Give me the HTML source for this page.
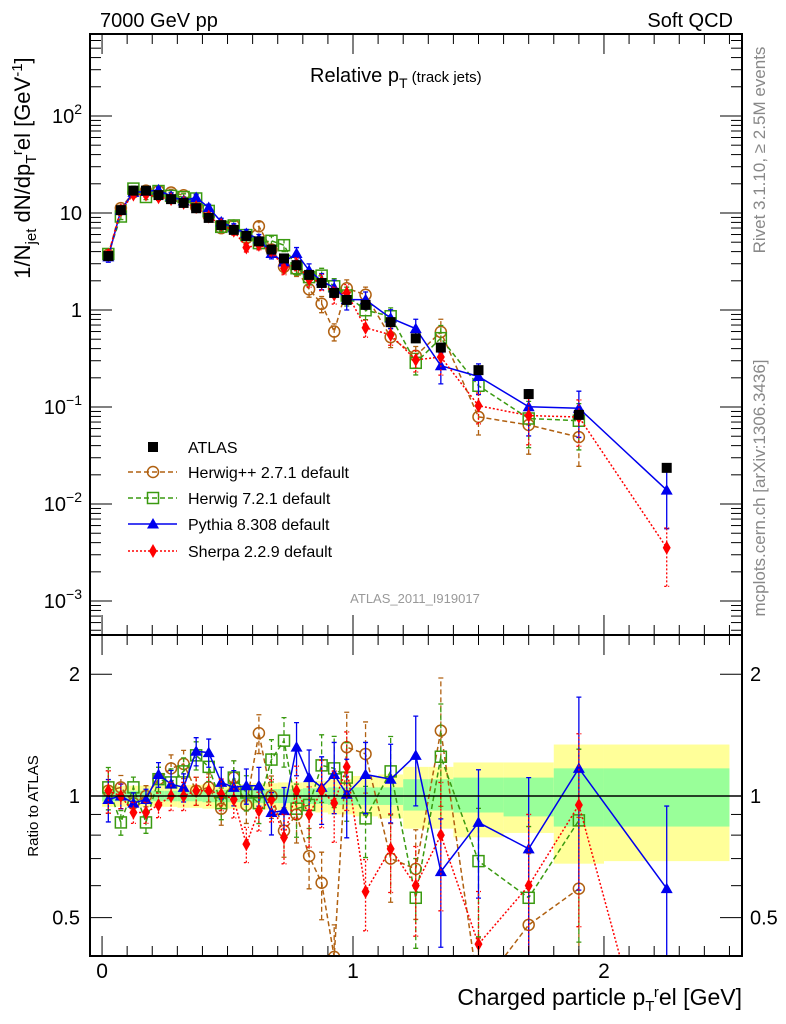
<!DOCTYPE html>
<html><head><meta charset="utf-8">
<style>
html,body{margin:0;padding:0;background:#fff;overflow:hidden;}
svg{display:block;font-family:"Liberation Sans",Arial,sans-serif;}
</style></head>
<body>
<svg id="c" width="786" height="1024" viewBox="0 0 786 1024" xmlns="http://www.w3.org/2000/svg">
  <g id="bands"></g>
  <g id="marks"></g>
  <g id="axes"></g>
  <text x="100" y="27" font-size="20">7000 GeV pp</text>
  <text x="733" y="27" font-size="20" text-anchor="end">Soft QCD</text>
  <text x="310" y="82" font-size="20">Relative p<tspan font-size="14" dy="6">T</tspan><tspan font-size="15" dy="-6"> (track jets)</tspan></text>
  <text x="415" y="603" font-size="13" fill="#999" text-anchor="middle">ATLAS_2011_I919017</text>
  <text transform="translate(765,150) rotate(-90)" font-size="17" fill="#888" text-anchor="middle">Rivet 3.1.10, ≥ 2.5M events</text>
  <text transform="translate(765,488) rotate(-90)" font-size="17" fill="#888" text-anchor="middle">mcplots.cern.ch [arXiv:1306.3436]</text>
  <text transform="translate(30,168) rotate(-90)" font-size="22" text-anchor="middle">1/N<tspan font-size="15" dy="6">jet</tspan><tspan dy="-6"> dN/dp</tspan><tspan font-size="15" dy="6">T</tspan><tspan font-size="15" dy="-14">r</tspan><tspan dy="8">el [GeV</tspan><tspan font-size="15" dy="-8">-1</tspan><tspan dy="8">]</tspan></text>
  <text transform="translate(38,806) rotate(-90)" font-size="15" text-anchor="middle">Ratio to ATLAS</text>
  <text x="742" y="1005" font-size="23" text-anchor="end">Charged particle p<tspan font-size="15" dy="6">T</tspan><tspan font-size="15" dy="-14">r</tspan><tspan dy="8">el [GeV]</tspan></text>
  <g id="legend"></g>
</svg>
<script>
const xVals=[0.025,0.075,0.125,0.175,0.225,0.275,0.325,0.375,0.425,0.475,0.525,0.575,0.625,0.675,0.725,0.775,0.825,0.875,0.925,0.975,1.05,1.15,1.25,1.35,1.5,1.7,1.9,2.25];
const binLo=[0,0.05,0.1,0.15,0.2,0.25,0.3,0.35,0.4,0.45,0.5,0.55,0.6,0.65,0.7,0.75,0.8,0.85,0.9,0.95,1.0,1.1,1.2,1.3,1.4,1.6,1.8,2.0];
const binHi=[0.05,0.1,0.15,0.2,0.25,0.3,0.35,0.4,0.45,0.5,0.55,0.6,0.65,0.7,0.75,0.8,0.85,0.9,0.95,1.0,1.1,1.2,1.3,1.4,1.6,1.8,2.0,2.5];
const atlas=[3.6,10.7,17,17,15.3,13.9,12.7,11.2,8.9,7.5,6.7,5.8,5.1,4.2,3.4,2.9,2.3,1.9,1.5,1.27,1.13,0.75,0.51,0.41,0.24,0.136,0.083,0.0236];
const greenHi=[1.03,1.03,1.03,1.03,1.03,1.03,1.03,1.03,1.035,1.035,1.035,1.035,1.04,1.04,1.04,1.04,1.045,1.045,1.05,1.05,1.05,1.05,1.10,1.10,1.11,1.11,1.17,1.17];
const greenLo=[0.97,0.97,0.97,0.97,0.97,0.97,0.97,0.97,0.965,0.965,0.965,0.965,0.96,0.96,0.96,0.96,0.955,0.955,0.95,0.95,0.95,0.95,0.92,0.92,0.91,0.89,0.84,0.84];
const yellowHi=[1.06,1.06,1.06,1.06,1.06,1.06,1.065,1.065,1.07,1.07,1.07,1.07,1.075,1.075,1.08,1.08,1.085,1.09,1.1,1.1,1.12,1.13,1.18,1.18,1.21,1.21,1.34,1.34];
const yellowLo=[0.94,0.94,0.94,0.94,0.94,0.94,0.935,0.935,0.93,0.93,0.93,0.93,0.925,0.925,0.92,0.92,0.915,0.91,0.9,0.9,0.89,0.88,0.83,0.83,0.79,0.81,0.68,0.69];
const ratioHpp=[1.03,1.05,0.96,1.0,1.10,1.17,1.2,1.03,1.05,0.93,1.11,0.95,1.43,1.0,0.82,0.9,0.71,0.61,0.4,1.32,1.27,0.70,0.66,1.45,0.33,0.48,0.59,null];
const ratioH7=[1.05,0.86,1.05,0.86,1.1,1.08,1.15,1.26,1.18,0.96,1.11,1.02,0.96,1.23,1.37,0.93,0.95,1.19,1.17,1.11,0.88,1.15,0.56,1.25,0.69,0.56,0.87,null];
const ratioPy=[0.98,1.0,0.96,0.98,1.13,1.07,1.05,1.29,1.28,1.08,1.05,1.06,1.06,0.91,0.92,1.32,1.11,1.05,1.13,1.01,1.13,1.1,1.26,0.65,0.86,0.74,1.17,0.59];
const ratioSh=[1.03,1.0,0.91,0.91,0.95,1.0,1.0,1.03,1.03,1.01,0.98,0.76,0.92,0.98,0.79,1.03,0.9,1.03,0.96,1.18,0.58,0.74,0.6,0.8,0.43,0.6,0.95,0.15];
const relErr=[0.12,0.07,0.06,0.06,0.07,0.08,0.08,0.08,0.08,0.09,0.1,0.1,0.11,0.12,0.14,0.15,0.17,0.19,0.2,0.22,0.2,0.22,0.25,0.35,0.35,0.5,0.5,0.6];
const yTickBase=["10","10","10","1","10","10"];
const yTickSup=["\u22123","\u22122","\u22121","","","2"];
const yTickExp=[-3,-2,-1,0,1,2];
const xTicks=[0,1,2];
const rTicks=[0.5,1,2];
const rTickLabels=["0.5","1","2"];

const NS="http://www.w3.org/2000/svg";
const L=90,R=742,T=34,M=635,B=956;
const X0=-0.048,X1=2.55;
const yMaxLog=Math.log10(700),yMinLog=-3.35;
const rMaxLog=Math.log10(2.5),rMinLog=Math.log10(0.402);
const sx=v=>L+(v-X0)/(X1-X0)*(R-L);
const sy=v=>T+(yMaxLog-Math.log10(v))/(yMaxLog-yMinLog)*(M-T);
const sr=v=>M+(rMaxLog-Math.log10(v))/(rMaxLog-rMinLog)*(B-M);
function el(tag,attrs,parent){const e=document.createElementNS(NS,tag);for(const k in attrs)e.setAttribute(k,attrs[k]);parent.appendChild(e);return e;}
const bands=document.getElementById('bands'),marks=document.getElementById('marks'),axes=document.getElementById('axes'),legend=document.getElementById('legend');

for(let i=0;i<xVals.length;i++){
  const y=el('rect',{x:sx(binLo[i]),y:sr(yellowHi[i]),width:sx(binHi[i])-sx(binLo[i]),height:sr(yellowLo[i])-sr(yellowHi[i]),fill:'#ffff99'},bands);
  
  
  const g=el('rect',{x:sx(binLo[i]),y:sr(greenHi[i]),width:sx(binHi[i])-sx(binLo[i]),height:sr(greenLo[i])-sr(greenHi[i]),fill:'#99ff99'},bands);
  
  
}
const ul=el('line',{x1:L,x2:R,y1:sr(1),y2:sr(1),stroke:'#000','stroke-width':1.5},axes);



function marker(type,x,y,color,parent){
  let m;
  if(type==='circle') m=el('circle',{cx:x,cy:y,r:5.5,fill:'none',stroke:color,'stroke-width':1.5},parent);
  else if(type==='square') m=el('rect',{x:x-5.5,y:y-5.5,width:11,height:11,fill:'none',stroke:color,'stroke-width':1.5},parent);
  else if(type==='fsquare') m=el('rect',{x:x-5,y:y-5,width:10,height:10,fill:color},parent);
  else if(type==='tri') m=el('polygon',{points:`${x},${y-6} ${x-6},${y+4.5} ${x+6},${y+4.5}`,fill:color},parent);
  else m=el('polygon',{points:`${x},${y-7} ${x-4},${y} ${x},${y+7} ${x+4},${y}`,fill:color},parent);
  return m;
}
const series=[
 {name:'herwigpp',ratio:ratioHpp,color:'#b06010',dash:'5,3',m:'circle',label:'Herwig++ 2.7.1 default'},
 {name:'herwig7',ratio:ratioH7,color:'#3a9a10',dash:'5,3',m:'square',label:'Herwig 7.2.1 default'},
 {name:'pythia',ratio:ratioPy,color:'#0000ee',dash:'',m:'tri',label:'Pythia 8.308 default'},
 {name:'sherpa',ratio:ratioSh,color:'#ff0000',dash:'2,2',m:'diamond',label:'Sherpa 2.2.9 default'}
];
const defs=el('defs',{},document.getElementById('c'));
const cp1=el('clipPath',{id:'cpMain'},defs);el('rect',{x:L,y:T,width:R-L,height:M-T},cp1);
const cp2=el('clipPath',{id:'cpRatio'},defs);el('rect',{x:L,y:M,width:R-L,height:B-M},cp2);
const gMain=el('g',{'clip-path':'url(#cpMain)'},marks);
const gRat=el('g',{'clip-path':'url(#cpRatio)'},marks);

series.forEach(s=>{
  ['main','ratio'].forEach(panel=>{
    const g=panel==='main'?gMain:gRat;
    const fy=panel==='main'?(i=>sy(atlas[i]*s.ratio[i])):(i=>sr(s.ratio[i]));
    const fyv=panel==='main'?(v=>sy(v)):(v=>sr(v));
    const base=panel==='main'?(i=>atlas[i]):(i=>1);
    let d='';
    for(let i=0;i<xVals.length;i++){ if(s.ratio[i]==null)continue; d+=(d?'L':'M')+sx(xVals[i])+','+fy(i);}
    const p=el('path',{d:d,fill:'none',stroke:s.color,'stroke-width':1.5,'stroke-dasharray':s.dash},g);
    
    
    for(let i=0;i<xVals.length;i++){
      if(s.ratio[i]==null)continue;
      const v=base(i)*s.ratio[i],x=sx(xVals[i]);
      const lo=Math.max(v*(1-relErr[i]),1e-6),hi=v*(1+relErr[i]);
      const eb=el('path',{d:`M${x},${fyv(lo)}L${x},${fyv(hi)}M${x-2.5},${fyv(lo)}h5M${x-2.5},${fyv(hi)}h5`,stroke:s.color,'stroke-width':1.3,'stroke-dasharray':s.dash,fill:'none'},g);
      
      
      const m=marker(s.m,x,fy(i),s.color,g);
      
      
    }
  });
});
for(let i=0;i<xVals.length;i++){
  const m=marker('fsquare',sx(xVals[i]),sy(atlas[i]),'#000',gMain);
  
  
}
[[T,M],[M,B]].forEach(([a,b])=>{
  const f=el('rect',{x:L,y:a,width:R-L,height:b-a,fill:'none',stroke:'#000','stroke-width':2},axes);
  
  
});
for(let e=-4;e<=2;e++){
  for(let k=1;k<10;k++){
    const v=k*Math.pow(10,e);const y=sy(v);
    if(y<T||y>M)continue;
    const len=k===1?22:11;
    el('line',{x1:L,x2:L+len,y1:y,y2:y,stroke:'#000','stroke-width':1},axes);
    el('line',{x1:R,x2:R-len,y1:y,y2:y,stroke:'#000','stroke-width':1},axes);
  }
}
yTickExp.forEach((e,i)=>{
  const y=sy(Math.pow(10,e))+7;
  const t=el('text',{x:L-8,y:y,'font-size':20,'text-anchor':'end'},axes);
  
  
  const a=el('tspan',{},t);a.textContent=yTickBase[i];
  if(yTickSup[i]){const b=el('tspan',{'font-size':14,dy:-9},t);b.textContent=yTickSup[i];}
});
for(let v=0;v<=2.5001;v+=0.1){
  const x=sx(v);const major=Math.abs(v-Math.round(v))<1e-6;const len=major?20:10;
  [[T,1],[M,1],[M,-1],[B,-1]].forEach(([y0,dir])=>el('line',{x1:x,x2:x,y1:y0,y2:y0+dir*len,stroke:'#000','stroke-width':1},axes));
}
xTicks.forEach(v=>{
  const t=el('text',{x:sx(v),y:B+22,'font-size':21,'text-anchor':'middle'},axes);
  t.textContent=String(v);
  
  
});
[0.5,0.6,0.7,0.8,0.9,1,2].forEach(v=>{
  const y=sr(v);const major=rTicks.includes(v);const len=major?22:11;
  el('line',{x1:L,x2:L+len,y1:y,y2:y,stroke:'#000','stroke-width':1},axes);
  el('line',{x1:R,x2:R-len,y1:y,y2:y,stroke:'#000','stroke-width':1},axes);
});
rTicks.forEach((v,i)=>{
  const t=el('text',{x:L-10,y:sr(v)+7,'font-size':20,'text-anchor':'end'},axes);
  t.textContent=rTickLabels[i];
  
  
  const t2=el('text',{x:R+8,y:sr(v)+7,'font-size':20},axes);
  t2.textContent=rTickLabels[i];
  
  
});
const rows=[447,472,498,524,551];
const am=marker('fsquare',153,rows[0],'#000',legend);


const at=el('text',{x:188,y:rows[0]+6,'font-size':16},legend);at.textContent='ATLAS';


series.forEach((s,i)=>{
  const y=rows[i+1];
  el('line',{x1:128,x2:177,y1:y,y2:y,stroke:s.color,'stroke-width':1.5,'stroke-dasharray':s.dash},legend);
  const m=marker(s.m,153,y,s.color,legend);
  
  
  const t=el('text',{x:188,y:y+6,'font-size':16},legend);t.textContent=s.label;
  
  
});
</script>
</body></html>
